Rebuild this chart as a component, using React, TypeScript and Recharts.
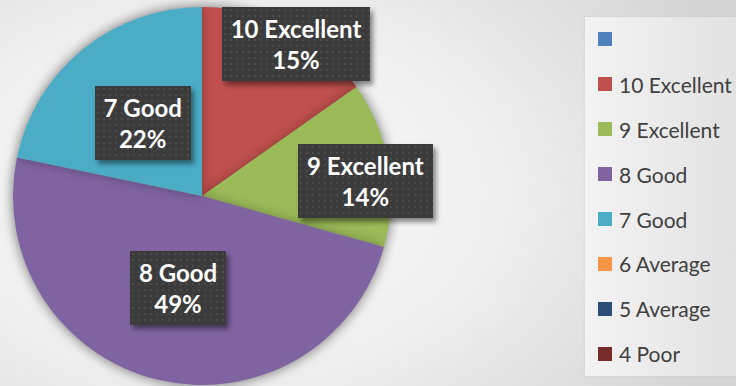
import React from 'react'
import { PieChart, Pie, Cell, Legend } from 'recharts'

const CATEGORIES = ['', '10 Excellent', '9 Excellent', '8 Good', '7 Good', '6 Average', '5 Average', '4 Poor']
const COUNTS = [0, 14, 13, 45, 20, 0, 0, 0]
const COLORS = ['#4F81BD', '#C0504D', '#9BBB59', '#8064A2', '#4BACC6', '#F79646', '#2C4D75', '#772C2A']

// where each data label box sits: [fraction of radius, angle nudge in degrees]
const LABEL_PLACE: [number, number][] = [
  [0, 0], [0.947, 4.3], [0.868, 4.5], [0.503, 0.9], [0.497, 0], [0, 0], [0, 0], [0, 0],
]

const rows = CATEGORIES.map((name, i) => ({ name, value: COUNTS[i] }))

const LABEL_FONT = 'Lato, "Open Sans", sans-serif'

function renderLabel(props: any) {
  const { cx, cy, midAngle, outerRadius, percent, name, index, value } = props
  if (!value) return null
  const [rf, nudge] = LABEL_PLACE[index]
  const t = ((90 - midAngle + nudge) * Math.PI) / 180
  const r = outerRadius * rf
  const x = cx + r * Math.sin(t)
  const y = cy - r * Math.cos(t)
  return (
    <foreignObject key={`lbl-${index}`} x={x - 110} y={y - 60} width={220} height={120}>
      <div style={{ width: 220, height: 120, display: 'flex', alignItems: 'center', justifyContent: 'center' }}>
        <div
          style={{
            background: '#3b3b3b',
            backgroundImage: 'radial-gradient(circle, rgba(255,255,255,0.08) 1px, transparent 1.6px)',
            backgroundSize: '6px 6px',
            color: '#ffffff',
            fontFamily: LABEL_FONT,
            fontWeight: 700,
            fontSize: 24,
            lineHeight: '31px',
            padding: '6px 9px',
            textAlign: 'center',
            whiteSpace: 'nowrap',
            boxShadow: '3px 4px 5px rgba(0,0,0,0.45)',
          }}
        >
          <div>{name}</div>
          <div>{Math.round(percent * 100)}%</div>
        </div>
      </div>
    </foreignObject>
  )
}

// legend keeps the data order (Recharts would sort it by name)
function renderLegend() {
  return (
    <div
      style={{
        width: 151,
        height: 359,
        background: 'linear-gradient(to right, #f3f3f3, #e2e2e2)',
        boxShadow: '0 0 3px rgba(0,0,0,0.08)',
      }}
    >
      {CATEGORIES.map((name, i) => (
        <div key={i} style={{ height: 44.9, display: 'flex', alignItems: 'center' }}>
          <span style={{ width: 14, height: 14, marginLeft: 13, background: COLORS[i], flex: 'none' }} />
          <span
            style={{
              marginLeft: 7,
              fontFamily: LABEL_FONT,
              fontSize: 21,
              color: '#404040',
              whiteSpace: 'nowrap',
            }}
          >
            {name}
          </span>
        </div>
      ))}
    </div>
  )
}

export default function App() {
  return (
    <div
      style={{
        position: 'absolute',
        left: 0,
        top: 0,
        width: 736,
        height: 386,
        overflow: 'hidden',
        background: 'radial-gradient(ellipse 75% 95% at 30% 50%, #fcfcfc 0%, #efefef 50%, #d5d5d5 100%)',
      }}
    >
      <style>{'.main-pie { filter: drop-shadow(0 0 6px rgba(0,0,0,0.28)); }'}</style>
      <PieChart width={736} height={386} margin={{ top: 0, right: 0, bottom: 0, left: 0 }}>
        <Pie
          className="main-pie"
          data={rows}
          dataKey="value"
          nameKey="name"
          cx={202}
          cy={196}
          outerRadius={189}
          startAngle={90}
          endAngle={-270}
          stroke="none"
          label={renderLabel}
          labelLine={false}
          isAnimationActive={false}
        >
          {rows.map((r, i) => (
            <Cell key={r.name + i} fill={COLORS[i]} />
          ))}
        </Pie>
        <Legend
          layout="vertical"
          align="right"
          verticalAlign="top"
          content={renderLegend}
          wrapperStyle={{ left: 585, top: 17, width: 151, height: 359 }}
        />
      </PieChart>
    </div>
  )
}
